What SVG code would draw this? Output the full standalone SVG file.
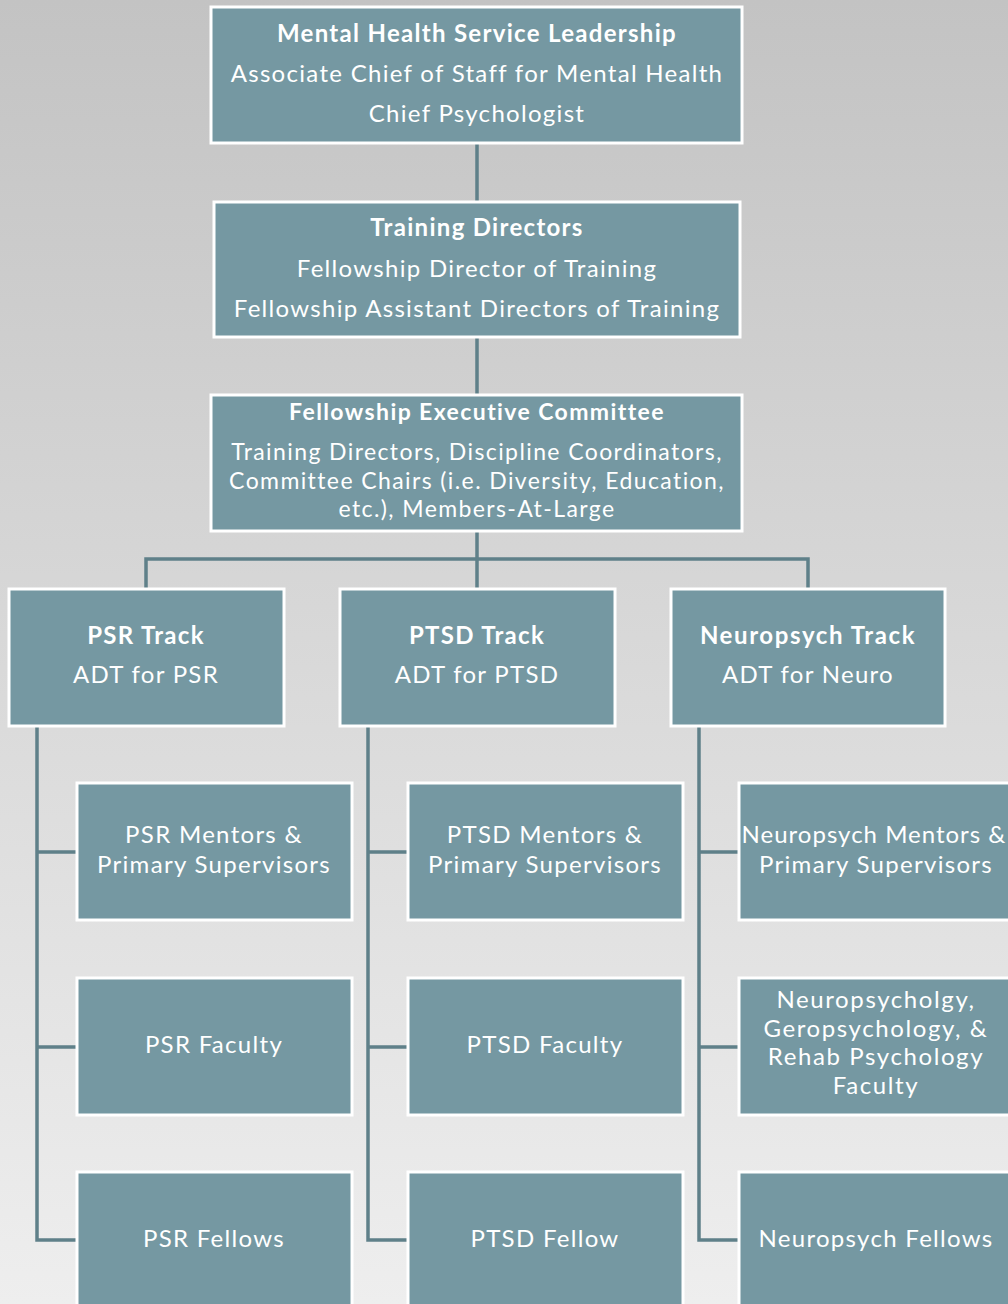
<svg xmlns="http://www.w3.org/2000/svg" width="1008" height="1304" viewBox="0 0 1008 1304">
<defs>
<linearGradient id="bg" x1="0" y1="0" x2="0" y2="1">
<stop offset="0" stop-color="#c3c3c3"/>
<stop offset="1" stop-color="#eeeeee"/>
</linearGradient>
<style>
.box{fill:#7598a2;stroke:#ffffff;stroke-width:3}
.edge{fill:none;stroke:#5f8089;stroke-width:3.5}
text{font-family:"Lato","Liberation Sans",sans-serif;fill:#ffffff;font-size:24px;text-anchor:middle;letter-spacing:1.3px}
.b{font-weight:bold}
.s{font-size:23px;letter-spacing:1.4px}
.n{letter-spacing:1px}
.w{letter-spacing:1.6px}
</style>
</defs>
<rect width="1008" height="1304" fill="url(#bg)"/>
<g id="connectors">
<path class="edge" d="M477,144V201M477,338V394M477,531V588M146,588V559H808V588"/>
<path class="edge" d="M37,727V1240H77M37,852H77M37,1047H77"/>
<path class="edge" d="M368,727V1240H408M368,852H408M368,1047H408"/>
<path class="edge" d="M699,727V1240H739M699,852H739M699,1047H739"/>
</g>
<g id="leadership">
<rect class="box" x="211" y="7" width="531" height="136"/>
<text class="b" x="477" y="42">Mental Health Service Leadership</text>
<text x="477" y="82">Associate Chief of Staff for Mental Health</text>
<text x="477" y="122">Chief Psychologist</text>
</g>
<g id="training-directors">
<rect class="box" x="214" y="202" width="526" height="135"/>
<text class="b" x="477" y="236">Training Directors</text>
<text x="477" y="277">Fellowship Director of Training</text>
<text x="477" y="317">Fellowship Assistant Directors of Training</text>
</g>
<g id="executive-committee">
<rect class="box" x="211" y="395" width="531" height="136"/>
<text class="b s" x="477" y="420">Fellowship Executive Committee</text>
<text class="s" x="477" y="460">Training Directors, Discipline Coordinators,</text>
<text class="s" x="477" y="489">Committee Chairs (i.e. Diversity, Education,</text>
<text class="s" x="477" y="517">etc.), Members-At-Large</text>
</g>
<g id="psr-track">
<rect class="box" x="9" y="589" width="275" height="137"/>
<text class="b" x="146" y="644">PSR Track</text>
<text x="146" y="683">ADT for PSR</text>
</g>
<g id="ptsd-track">
<rect class="box" x="340" y="589" width="275" height="137"/>
<text class="b" x="477" y="644">PTSD Track</text>
<text x="477" y="683">ADT for PTSD</text>
</g>
<g id="neuro-track">
<rect class="box" x="671" y="589" width="274" height="137"/>
<text class="b w" x="808" y="644">Neuropsych Track</text>
<text x="808" y="683">ADT for Neuro</text>
</g>
<g id="psr-mentors">
<rect class="box" x="77" y="783" width="275" height="137"/>
<text x="214" y="843">PSR Mentors &amp;</text>
<text x="214" y="873">Primary Supervisors</text>
</g>
<g id="psr-faculty">
<rect class="box" x="77" y="978" width="275" height="137"/>
<text x="214" y="1053">PSR Faculty</text>
</g>
<g id="psr-fellows">
<rect class="box" x="77" y="1172" width="275" height="137"/>
<text x="214" y="1247">PSR Fellows</text>
</g>
<g id="ptsd-mentors">
<rect class="box" x="408" y="783" width="275" height="137"/>
<text x="545" y="843">PTSD Mentors &amp;</text>
<text x="545" y="873">Primary Supervisors</text>
</g>
<g id="ptsd-faculty">
<rect class="box" x="408" y="978" width="275" height="137"/>
<text x="545" y="1053">PTSD Faculty</text>
</g>
<g id="ptsd-fellow">
<rect class="box" x="408" y="1172" width="275" height="137"/>
<text x="545" y="1247">PTSD Fellow</text>
</g>
<g id="neuro-mentors">
<rect class="box" x="739" y="783" width="275" height="137"/>
<text class="n" x="874" y="843">Neuropsych Mentors &amp;</text>
<text x="876" y="873">Primary Supervisors</text>
</g>
<g id="neuro-faculty">
<rect class="box" x="739" y="978" width="275" height="137"/>
<text class="w" x="876" y="1008">Neuropsycholgy,</text>
<text class="w" x="876" y="1037">Geropsychology, &amp;</text>
<text class="w" x="876" y="1065">Rehab Psychology</text>
<text class="w" x="876" y="1094">Faculty</text>
</g>
<g id="neuro-fellows">
<rect class="box" x="739" y="1172" width="275" height="137"/>
<text x="876" y="1247">Neuropsych Fellows</text>
</g>
</svg>
